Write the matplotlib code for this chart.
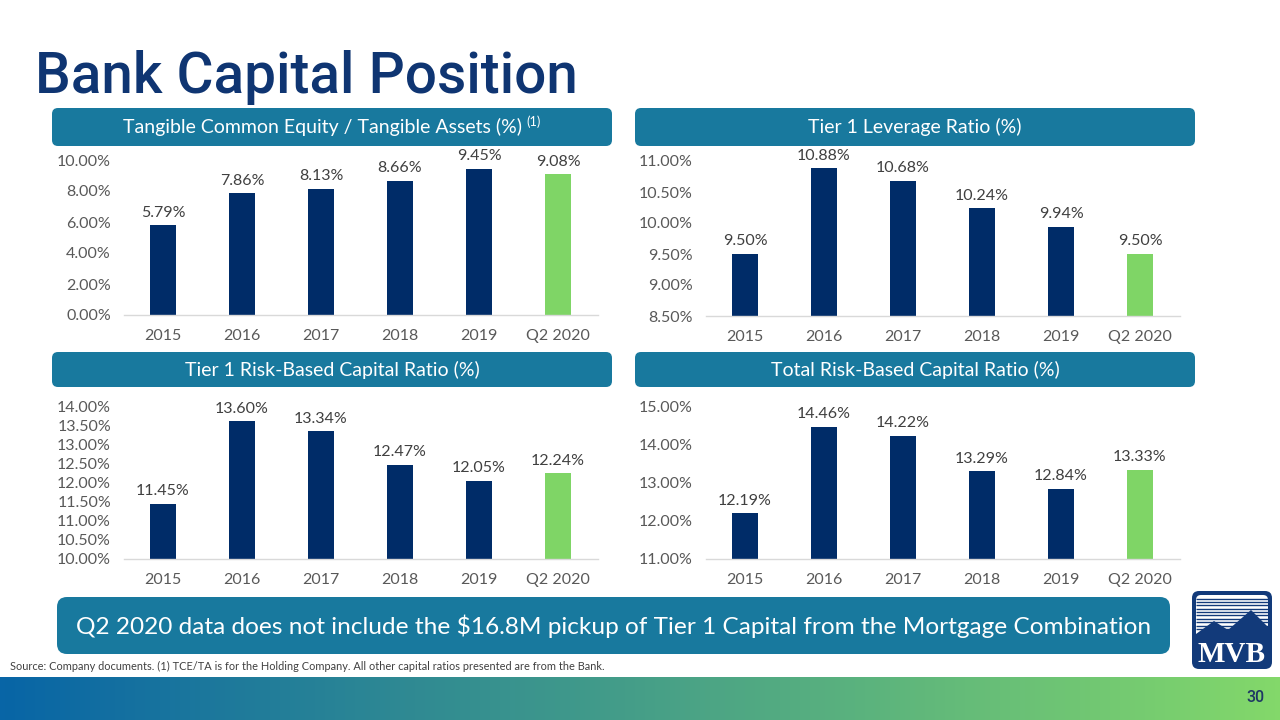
import numpy as np
import matplotlib
matplotlib.use("Agg")
import matplotlib.pyplot as plt
from matplotlib.patches import FancyBboxPatch, Rectangle, Polygon
from matplotlib.colors import LinearSegmentedColormap
from matplotlib.ticker import FuncFormatter, MultipleLocator

# ---------------- data ----------------
categories = ['2015', '2016', '2017', '2018', '2019', 'Q2 2020']
tce_ta = [5.79, 7.86, 8.13, 8.66, 9.45, 9.08]
tier1_leverage = [9.50, 10.88, 10.68, 10.24, 9.94, 9.50]
tier1_risk_based = [11.45, 13.60, 13.34, 12.47, 12.05, 12.24]
total_risk_based = [12.19, 14.46, 14.22, 13.29, 12.84, 13.33]

title = "Bank Capital Position"
panel_titles = ["Tangible Common Equity / Tangible Assets (%)",
                "Tier 1 Leverage Ratio (%)",
                "Tier 1 Risk-Based Capital Ratio (%)",
                "Total Risk-Based Capital Ratio (%)"]
banner = "Q2 2020 data does not include the \\$16.8M pickup of Tier 1 Capital from the Mortgage Combination"
source = "Source: Company documents. (1) TCE/TA is for the Holding Company. All other capital ratios presented are from the Bank."
page_no = "30"

NAVY = "#002c68"
GREEN = "#7fd566"
TEAL = "#18799e"
TITLE_C = "#0f3572"
GRAY = "#595959"
FONT = ["Lato", "DejaVu Sans"]

W, H = 1280, 720
fig = plt.figure(figsize=(12.8, 7.2), dpi=100)
bg = fig.add_axes([0, 0, 1, 1])
bg.set_xlim(0, W)
bg.set_ylim(H, 0)
bg.axis("off")
renderer = fig.canvas.get_renderer()


def fit(t, target_w):
    bb = t.get_window_extent(renderer)
    t.set_fontsize(t.get_fontsize() * target_w / bb.width)
    return t


# ---------------- title ----------------
tt = bg.text(35, 93, title, color=TITLE_C, fontsize=40, family=["Roboto", "DejaVu Sans"],
             fontweight="medium", ha="left", va="baseline")
fit(tt, 543)

# ---------------- header bars ----------------
hdr = [(52, 108, 560, 38), (635, 108, 560, 38), (52, 352, 560, 35), (635, 352, 560, 35)]
for (x, y, w, h) in hdr:
    bg.add_patch(FancyBboxPatch((x, y), w, h, boxstyle="round,pad=0,rounding_size=6",
                                fc=TEAL, ec="none"))

hsize = 12
probe = bg.text(0, 0, panel_titles[1], fontsize=hsize, family=FONT)
hsize = hsize * 213 / probe.get_window_extent(renderer).width
probe.remove()

# first header with superscript
t0 = bg.text(0, 127, panel_titles[0], color="white", fontsize=hsize, family=FONT,
             ha="left", va="center")
sup = bg.text(0, 122, "(1)", color="white", fontsize=hsize * 0.65, family=FONT,
              ha="left", va="center")
w0 = t0.get_window_extent(renderer).width
ws = sup.get_window_extent(renderer).width
total = w0 + 5 + ws
start = 332 - total / 2
t0.set_x(start)
sup.set_x(start + w0 + 5)

centers = [(915, 127), (332, 370), (915, 370)]
for txt, (cx, cy) in zip(panel_titles[1:], centers):
    bg.text(cx, cy, txt, color="white", fontsize=hsize, family=FONT, ha="center", va="center")

# ---------------- chart panels ----------------
panels = [
    (tce_ta, (123.5, 160, 315), (0, 10), 2),
    (tier1_leverage, (705.5, 161, 316), (8.5, 11), 0.5),
    (tier1_risk_based, (123.5, 406, 559), (10, 14), 0.5),
    (total_risk_based, (705.5, 406, 559), (11, 15), 1),
]
colors = [NAVY] * 5 + [GREEN]
x = np.arange(len(categories))
for vals, (lx, ty, by), ylim, step in panels:
    ax = fig.add_axes([lx / W, (H - by) / H, 474 / W, (by - ty) / H])
    ax.set_facecolor("none")
    ax.bar(x, vals, width=0.32, color=colors, zorder=2)
    ax.set_xlim(-0.5, len(categories) - 0.5)
    ax.set_ylim(*ylim)
    ax.yaxis.set_major_locator(MultipleLocator(step))
    ax.yaxis.set_major_formatter(FuncFormatter(lambda v, p: f"{v:.2f}%"))
    ax.set_xticks(x)
    ax.set_xticklabels(categories)
    for s in ["top", "right", "left"]:
        ax.spines[s].set_visible(False)
    ax.spines["bottom"].set_color("#d9d9d9")
    ax.spines["bottom"].set_linewidth(1)
    ax.tick_params(axis="both", length=0, labelsize=11.5, labelcolor=GRAY)
    ax.tick_params(axis="y", pad=9)
    ax.tick_params(axis="x", pad=18)
    for lab in ax.get_yticklabels():
        lab.set_family(FONT)
    for lab in ax.get_xticklabels():
        lab.set_family(FONT)
        lab.set_va("baseline")
    for xi, v in zip(x, vals):
        ax.annotate(f"{v:.2f}%", (xi, v), xytext=(0, 4), textcoords="offset points",
                    ha="center", va="bottom", fontsize=11.5, color="#404040",
                    family=FONT, annotation_clip=False)

# ---------------- banner ----------------
bg.add_patch(FancyBboxPatch((57, 597), 1113, 57, boxstyle="round,pad=0,rounding_size=10",
                            fc=TEAL, ec="none"))
bt = bg.text(613.5, 626, banner, color="white", fontsize=17, family=FONT,
             ha="center", va="center")
fit(bt, 1075)

# ---------------- source ----------------
st = bg.text(10, 666, source, color="#404040", fontsize=7, family=FONT, ha="left", va="center")
fit(st, 588)

# ---------------- footer gradient ----------------
cmap = LinearSegmentedColormap.from_list("foot", ["#0865a6", "#83d86a"])
grad = np.linspace(0, 1, 256).reshape(1, -1)
bg.imshow(grad, cmap=cmap, extent=(0, W, 720, 677), aspect="auto", zorder=1)
bg.set_xlim(0, W)
bg.set_ylim(H, 0)
bg.text(1255, 697, page_no, color="#1f3864", fontsize=11.5, family=["Roboto", "DejaVu Sans"],
        fontweight="medium", ha="center", va="center", zorder=3)

# ---------------- logo ----------------
LOGO = "#123a7a"
bg.add_patch(FancyBboxPatch((1192, 591), 80, 78, boxstyle="round,pad=0,rounding_size=7",
                            fc=LOGO, ec="none", zorder=2))
bg.add_patch(FancyBboxPatch((1196, 595), 72, 44, boxstyle="round,pad=0,rounding_size=5",
                            fc="white", ec="none", zorder=3))
for yy in np.arange(598.5, 632, 3.4):
    bg.plot([1196, 1268], [yy, yy], color=LOGO, lw=1.0, zorder=4, solid_capstyle="butt")
bg.add_patch(Polygon([(1196, 640), (1196, 634), (1214, 621), (1228, 630), (1251, 610),
                      (1268, 627), (1268, 640)], closed=True, fc=LOGO, ec="none", zorder=5))
bg.text(1232, 655, "MVB", color="white", fontsize=21, family=["Liberation Serif", "DejaVu Serif"],
        fontweight="bold", ha="center", va="center", zorder=6)

fig.savefig("out.png", dpi=100)
